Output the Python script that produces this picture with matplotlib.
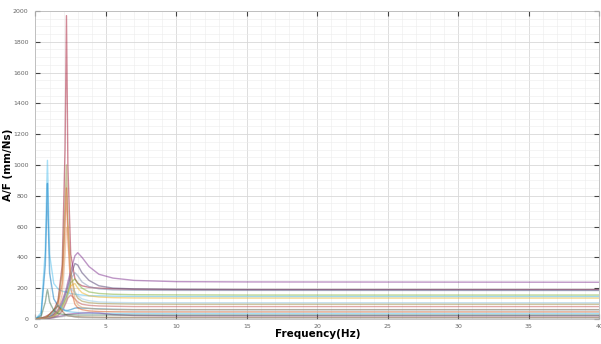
import numpy as np
import matplotlib.pyplot as plt
from matplotlib.ticker import MultipleLocator

# frequency points (Hz) shared by every curve
freq = [0, 0.4, 0.7, 0.8, 0.85, 0.9, 1.0, 1.3, 1.6, 1.9, 2.1, 2.2, 2.3, 2.5,
        2.8, 3.0, 3.3, 3.8, 4.5, 5.5, 7, 10, 15, 40]

c01 = [0, 40, 450, 850, 1030, 850, 420, 230, 195, 180, 175, 175, 170, 165, 160, 158, 155, 150, 150, 148, 146, 145, 145, 145]
c02 = [0, 25, 350, 700, 880, 650, 300, 130, 85, 62, 55, 55, 55, 60, 70, 72, 70, 68, 65, 62, 60, 60, 60, 60]
c03 = [0, 5, 15, 20, 22, 25, 30, 55, 120, 350, 1100, 1970, 1000, 420, 260, 232, 215, 205, 200, 195, 192, 190, 190, 190]
c04 = [0, 5, 12, 15, 17, 20, 25, 45, 110, 300, 750, 1000, 650, 300, 170, 135, 115, 105, 100, 98, 96, 95, 95, 95]
c05 = [0, 3, 8, 10, 11, 12, 15, 35, 90, 230, 600, 850, 520, 200, 95, 72, 60, 52, 48, 46, 45, 45, 45, 45]
c06 = [0, 2, 6, 8, 9, 10, 14, 28, 60, 120, 170, 200, 240, 310, 410, 430, 400, 340, 290, 265, 250, 242, 240, 238]
c07 = [0, 2, 5, 6, 7, 8, 12, 25, 50, 100, 150, 175, 210, 280, 360, 350, 300, 250, 215, 200, 195, 192, 190, 188]
c08 = [0, 1, 4, 5, 6, 7, 10, 20, 45, 90, 130, 150, 180, 260, 300, 280, 240, 210, 195, 188, 186, 185, 185, 184]
c09 = [0, 1, 3, 4, 5, 6, 8, 17, 40, 80, 120, 140, 170, 235, 260, 230, 200, 175, 165, 160, 157, 156, 155, 155]
c10 = [0, 1, 3, 4, 5, 6, 8, 15, 35, 70, 110, 130, 160, 215, 230, 200, 170, 150, 142, 138, 136, 135, 135, 135]
c11 = [0, 1, 2, 3, 4, 5, 7, 13, 28, 60, 100, 120, 150, 195, 175, 150, 130, 118, 110, 107, 105, 105, 105, 105]
c12 = [0, 1, 2, 3, 3, 4, 6, 11, 22, 50, 90, 110, 135, 155, 130, 110, 95, 88, 84, 82, 80, 80, 80, 80]
c13 = [0, 1, 3, 5, 6, 8, 12, 45, 90, 70, 55, 50, 48, 45, 42, 40, 38, 37, 36, 35, 35, 35, 35, 35]
c14 = [0, 1, 2, 2, 2, 3, 4, 8, 15, 20, 25, 28, 30, 32, 35, 36, 38, 40, 38, 28, 22, 20, 20, 20]
c15 = [0, 2, 5, 10, 15, 20, 30, 60, 85, 50, 30, 25, 20, 18, 15, 14, 13, 12, 11, 10, 10, 10, 10, 10]
c16 = [0, 15, 110, 170, 190, 170, 110, 55, 35, 30, 28, 28, 28, 27, 26, 25, 25, 25, 25, 25, 25, 25, 25, 25]
c17 = [0, 1, 2, 3, 3, 4, 5, 8, 12, 15, 18, 20, 20, 18, 12, 10, 8, 7, 6, 5, 5, 5, 5, 5]
c18 = [0, 2, 5, 6, 7, 8, 10, 22, 55, 160, 420, 590, 600, 300, 130, 92, 75, 68, 63, 61, 60, 60, 60, 60]

curves = [c01, c02, c03, c04, c05, c06, c07, c08, c09,
          c10, c11, c12, c13, c14, c15, c16, c17, c18]
colors = ['#4DBEEE', '#0072BD', '#A2142F', '#9a8a3a', '#D95319', '#7E2F8E',
          '#4b3a6e', '#7f8fb0', '#77AC30', '#EDB120', '#8fc3e0', '#c0504d',
          '#4DBEEE', '#7E2F8E', '#8b5a2b', '#3f6f4f', '#909090', '#e0a060']

fig = plt.figure(figsize=(6.01, 3.44), dpi=100)
ax = fig.add_axes([0.059, 0.073, 0.938, 0.895])

for y, c in zip(curves, colors):
    ax.plot(freq, y, color=c, lw=1.0, alpha=0.5)

ax.set_xlim(0, 40)
ax.set_ylim(0, 2000)
ax.xaxis.set_major_locator(MultipleLocator(5))
ax.yaxis.set_major_locator(MultipleLocator(200))
ax.xaxis.set_minor_locator(MultipleLocator(1))
ax.yaxis.set_minor_locator(MultipleLocator(50))
ax.grid(which='major', color='#d8d8d8', lw=0.6)
ax.grid(which='minor', color='#ececec', lw=0.4)
ax.set_axisbelow(True)
ax.tick_params(which='both', direction='in', top=True, right=True,
               labelsize=4.5, labelcolor='#666666', color='#444444')
ax.tick_params(axis='y', pad=5)
ax.tick_params(which='minor', length=0)
for s in ax.spines.values():
    s.set_color('#bbbbbb')
    s.set_linewidth(0.6)

ax.set_xlabel('Frequency(Hz)', fontsize=7.5, fontweight='bold', labelpad=0)
ax.set_ylabel('A/F (mm/Ns)', fontsize=7.5, fontweight='bold')
ax.yaxis.set_label_coords(-0.040, 0.5)

fig.savefig('out.png', dpi=100)
